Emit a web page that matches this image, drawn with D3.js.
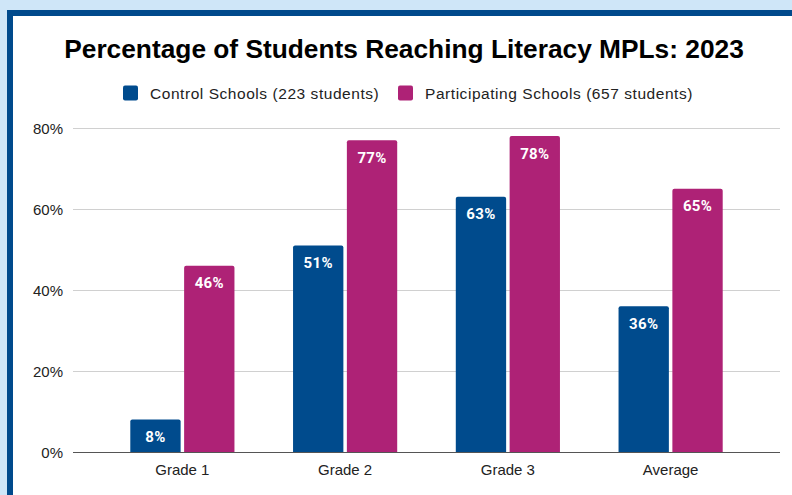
<!DOCTYPE html>
<html>
<head>
<meta charset="utf-8">
<script src="https://cdn.jsdelivr.net/npm/d3@7"></script>
<style>
  html, body { margin: 0; padding: 0; background: #cfe6f8; }
  #frame {
    position: absolute; left: 7px; top: 10px;
    width: 800px; height: 500px;
    border: 6px solid #004a8c; border-right: none; border-bottom: none;
    background: #fff;
  }
  svg { position: absolute; left: 0; top: 0; }
</style>
</head>
<body>
<div id="frame"></div>
<div id="chart"></div>
<script>
var categories = ["Grade 1", "Grade 2", "Grade 3", "Average"];
var seriesNames = ["Control Schools (223 students)", "Participating Schools (657 students)"];
var control = [8, 51, 63, 36];
var participating = [46, 77, 78, 65];
var yTicks = [0, 20, 40, 60, 80];
var colors = ["#004b8d", "#ae2276"];

var width = 792, height = 495;

var svg = d3.select("#chart")
    .append("svg")
    .attr("width", width)
    .attr("height", height);

// title
svg.append("text")
    .attr("x", 404)
    .attr("y", 58)
    .attr("text-anchor", "middle")
    .style("font-family", "Liberation Sans, Arial, sans-serif")
    .style("font-weight", "bold")
    .style("font-size", "26.3px")
    .text("Percentage of Students Reaching Literacy MPLs: 2023");

// legend
var legendX = [123, 398];
seriesNames.forEach(function (name, i) {
    svg.append("rect")
        .attr("x", legendX[i])
        .attr("y", 85.5)
        .attr("width", 15)
        .attr("height", 15)
        .attr("rx", 2)
        .style("fill", colors[i]);
    svg.append("text")
        .attr("x", legendX[i] + 27)
        .attr("y", 98.5)
        .style("font-family", "Liberation Sans, Arial, sans-serif")
        .style("font-size", "15.5px")
        .style("letter-spacing", "0.55px")
        .style("fill", "#222")
        .text(name);
});

var y = d3.scaleLinear()
    .domain([0, 80])
    .range([452, 128]);

var x0 = d3.scaleBand()
    .domain(categories)
    .range([101, 752])
    .paddingInner(0.36)
    .paddingOuter(0.18);

var x1 = d3.scaleBand()
    .domain([0, 1])
    .range([0, x0.bandwidth()])
    .paddingInner(0.065);

// gridlines
svg.append("g")
    .selectAll("line")
    .data(yTicks.filter(function (d) { return d > 0; }))
    .enter()
    .append("line")
    .attr("x1", 73)
    .attr("x2", 780)
    .attr("y1", function (d) { return Math.round(y(d)) + 0.5; })
    .attr("y2", function (d) { return Math.round(y(d)) + 0.5; })
    .style("stroke", "#d0d0d0")
    .style("stroke-width", 1);

// y labels
svg.append("g")
    .selectAll("text")
    .data(yTicks)
    .enter()
    .append("text")
    .attr("x", 63)
    .attr("y", function (d) { return y(d) + 5.5; })
    .attr("text-anchor", "end")
    .style("font-family", "Liberation Sans, Arial, sans-serif")
    .style("font-size", "15px")
    .style("fill", "#222")
    .text(function (d) { return d + "%"; });

// bars
var rows = categories.map(function (c, i) {
    return { cat: c, vals: [control[i], participating[i]] };
});

function topRounded(x, yTop, w, h, r) {
    return "M" + x + "," + (yTop + h) +
        "V" + (yTop + r) +
        "Q" + x + "," + yTop + " " + (x + r) + "," + yTop +
        "H" + (x + w - r) +
        "Q" + (x + w) + "," + yTop + " " + (x + w) + "," + (yTop + r) +
        "V" + (yTop + h) + "Z";
}

var groups = svg.append("g")
    .selectAll("g")
    .data(rows)
    .enter()
    .append("g")
    .attr("transform", function (d) { return "translate(" + x0(d.cat) + ",0)"; });

groups.selectAll("path")
    .data(function (d) { return d.vals; })
    .enter()
    .append("path")
    .attr("d", function (v, i) {
        return topRounded(x1(i), y(v), x1.bandwidth(), y(0) - y(v), 2);
    })
    .style("fill", function (v, i) { return colors[i]; });

groups.selectAll("text")
    .data(function (d) { return d.vals; })
    .enter()
    .append("text")
    .attr("x", function (v, i) { return x1(i) + x1.bandwidth() / 2; })
    .attr("y", function (v) { return y(v) + 22.5; })
    .attr("text-anchor", "middle")
    .style("font-family", "Roboto, sans-serif")
    .style("font-weight", "bold")
    .style("font-size", "15px")
    .style("letter-spacing", "0.3px")
    .style("fill", "#fff")
    .text(function (v) { return v + "%"; });

// baseline
svg.append("line")
    .attr("x1", 73)
    .attr("x2", 780)
    .attr("y1", Math.round(y(0)) + 0.5)
    .attr("y2", Math.round(y(0)) + 0.5)
    .style("stroke", "#555")
    .style("stroke-width", 1.2);

// category labels
svg.append("g")
    .selectAll("text")
    .data(categories)
    .enter()
    .append("text")
    .attr("x", function (d) { return x0(d) + x0.bandwidth() / 2; })
    .attr("y", 475)
    .attr("text-anchor", "middle")
    .style("font-family", "Liberation Sans, Arial, sans-serif")
    .style("font-size", "15px")
    .style("fill", "#222")
    .text(function (d) { return d; });
</script>
</body>
</html>
